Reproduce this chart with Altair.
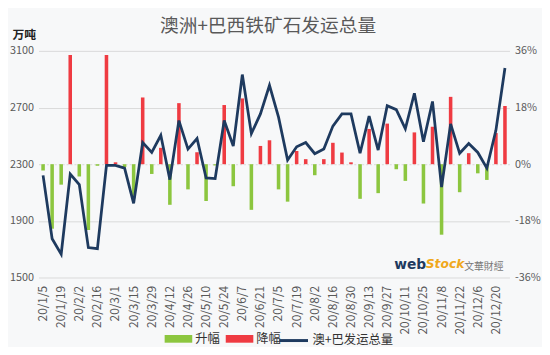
import altair as alt
import pandas as pd

weeks = ["20/1/5", "20/1/12", "20/1/19", "20/1/26", "20/2/2", "20/2/9", "20/2/16", "20/2/23",
         "20/3/1", "20/3/8", "20/3/15", "20/3/22", "20/3/29", "20/4/5", "20/4/12", "20/4/19",
         "20/4/26", "20/5/3", "20/5/10", "20/5/17", "20/5/24", "20/5/31", "20/6/7", "20/6/14",
         "20/6/21", "20/6/28", "20/7/5", "20/7/12", "20/7/19", "20/7/26", "20/8/2", "20/8/9",
         "20/8/16", "20/8/23", "20/8/30", "20/9/6", "20/9/13", "20/9/20", "20/9/27", "20/10/4",
         "20/10/11", "20/10/18", "20/10/25", "20/11/1", "20/11/8", "20/11/15", "20/11/22",
         "20/11/29", "20/12/6", "20/12/13", "20/12/20", "20/12/27"]

total = [2221, 1774, 1665, 2230, 2156, 1711, 1704, 2291, 2291, 2272, 2024, 2453, 2383,
         2504, 2191, 2608, 2407, 2481, 2203, 2198, 2608, 2428, 2933, 2516, 2655, 2857,
         2632, 2330, 2423, 2453, 2374, 2407, 2569, 2655, 2655, 2377, 2639, 2400, 2713,
         2685, 2550, 2801, 2458, 2743, 2138, 2585, 2377, 2446, 2383, 2272, 2539, 2979]

change = [-2.0, -20.5, -6.5, 34.7, -3.9, -20.9, -0.5, 34.7, 0.6, -0.9, -10.9, 21.2, -3.1,
          5.2, -12.9, 19.4, -8.0, 3.8, -11.7, -0.4, 18.8, -7.0, 20.9, -14.5, 5.8, 7.6,
          -8.0, -11.9, 4.2, 1.6, -3.5, 1.6, 6.8, 3.7, 0.6, -11.0, 11.2, -9.2, 12.9,
          -1.6, -5.3, 10.1, -12.5, 11.9, -22.4, 21.4, -8.9, 3.5, -2.9, -5.0, 9.9, 18.5]

left_ticks = [1500, 1900, 2300, 2700, 3100]
right_ticks = [-36, -18, 0, 18, 36]
label_weeks = weeks[0:51:2]

GREEN = "#8cc63f"
RED = "#ef3b42"
NAVY = "#1e3a5f"
TXT = "#595959"
FONT = "Noto Sans CJK SC"

df = pd.DataFrame({"week": weeks, "total": total, "change": change})
df["kind"] = ["降幅" if c > 0 else "升幅" for c in change]
df["series"] = "澳+巴发运总量"
one = pd.DataFrame({"k": [0]})

x = alt.X("week:N", sort=None, title=None,
          scale=alt.Scale(paddingInner=0, paddingOuter=0),
          axis=alt.Axis(values=label_weeks, labelAngle=-90, labelFontSize=12,
                        labelColor=TXT, labelFont=FONT, ticks=False, domain=False,
                        labelPadding=8, grid=False))

bars = alt.Chart(df).mark_bar(size=3.6).encode(
    x=x,
    y=alt.Y("change:Q", title=None,
            scale=alt.Scale(domain=[-36, 36], nice=False, zero=False),
            axis=alt.Axis(orient="right", values=right_ticks, labelExpr="datum.value + '%'",
                          grid=False, ticks=False, domain=False, labelFontSize=11,
                          labelColor=TXT, labelFont=FONT, labelPadding=5)),
    color=alt.Color("kind:N",
                    scale=alt.Scale(domain=["升幅", "降幅"], range=[GREEN, RED]),
                    legend=alt.Legend(orient="none", legendX=128, legendY=278,
                                      direction="horizontal", title=None,
                                      symbolType="M-1,-0.28H1V0.28H-1Z", symbolSize=784,
                                      symbolStrokeWidth=0, labelFontSize=12.5,
                                      labelColor="#333333", labelFont=FONT,
                                      labelOffset=3, columnPadding=5)),
)

line = alt.Chart(df).mark_line(strokeWidth=2.8).encode(
    x=x,
    y=alt.Y("total:Q",
            scale=alt.Scale(domain=[1500, 3100], nice=False, zero=False),
            axis=alt.Axis(orient="left", values=left_ticks, format="d", grid=True, ticks=False,
                          domain=False, labelFontSize=11, labelColor=TXT, labelFont=FONT,
                          labelPadding=5, gridColor="#d9d9d9", gridWidth=1,
                          gridDash={"condition": {"test": "datum.value === 2300", "value": [2, 2]},
                                    "value": []},
                          title="万吨", titleAngle=0, titleAlign="left", titleBaseline="middle",
                          titleX=-27, titleY=-17, titleFontSize=12, titleFont=FONT,
                          titleFontWeight="bold", titleColor="#222222")),
    stroke=alt.Stroke("series:N",
                      scale=alt.Scale(domain=["澳+巴发运总量"], range=[NAVY]),
                      legend=alt.Legend(orient="none", legendX=243, legendY=278,
                                        direction="horizontal", title=None,
                                        symbolType="stroke", symbolSize=841,
                                        symbolStrokeWidth=3, labelFontSize=12.5,
                                        labelColor="#333333", labelFont=FONT,
                                        labelOffset=3)),
)

wm1 = alt.Chart(one).mark_text(text="web", align="left", baseline="middle", fontSize=14,
                               fontWeight="bold", font="DejaVu Sans", color=NAVY).encode(
    x=alt.value(361), y=alt.value(217))
wm2 = alt.Chart(one).mark_text(text="Stock", align="left", baseline="middle", fontSize=12.5,
                               fontWeight="bold", fontStyle="italic", font="DejaVu Sans",
                               color="#f0a81c").encode(
    x=alt.value(393), y=alt.value(216))
wm3 = alt.Chart(one).mark_text(text="文華財經", align="left", baseline="middle", fontSize=10,
                               font=FONT, color="#777777").encode(
    x=alt.value(432), y=alt.value(219))

chart = alt.layer(bars, line, wm1, wm2, wm3).resolve_scale(
    y="independent", color="independent", stroke="independent"
).properties(
    width=478, height=230,
    autosize=alt.AutoSizeParams(type="none"),
    padding={"left": 31, "top": 41, "right": 33, "bottom": 68},
    background="#f7f8f9",
    title=alt.TitleParams("澳洲+巴西铁矿石发运总量", fontSize=19, color=TXT, font=FONT,
                          fontWeight="normal", anchor="middle", frame="group", offset=13,
                          dx=-6, dy=21),
).configure_view(stroke=None)

chart.save("out.html", embed_options={"renderer": "svg", "actions": False})
